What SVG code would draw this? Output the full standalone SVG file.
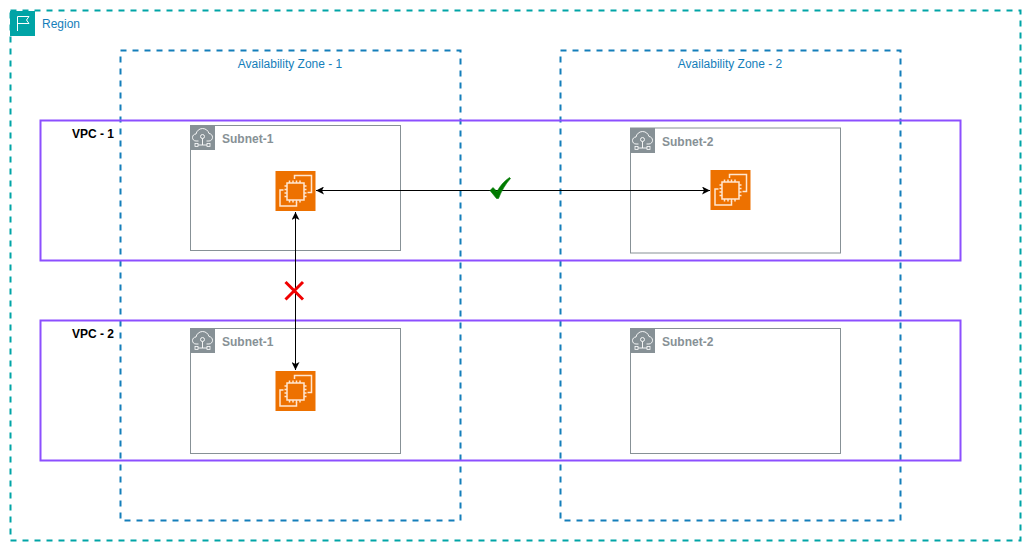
<svg xmlns="http://www.w3.org/2000/svg" width="1033" height="553" viewBox="0 0 1033 553">
<style>
text{font-family:"Liberation Sans",Arial,sans-serif;font-size:12px}
.region{fill:none;stroke:#00a4a6;stroke-width:2;stroke-dasharray:6 6}
.az{fill:none;stroke:#147eba;stroke-width:2;stroke-dasharray:6 6}
.vpc{fill:none;stroke:#8c4fff;stroke-width:2}
.subnet{fill:none;stroke:#879196}
.subtxt{fill:#879196;font-weight:bold}
.blue{fill:#147eba}
.vpctxt{fill:#000;font-weight:bold}
.conn{fill:none;stroke:#000;stroke-width:1}
.ico{fill:none;stroke:#ffe6d0;stroke-width:1.500}
</style>
<defs>
<marker id="arr" markerWidth="9" markerHeight="8" refX="8" refY="4" orient="auto-start-reverse" markerUnits="userSpaceOnUse"><path d="M0 0L8 4L0 8L2 4Z" fill="#000"/></marker>
<symbol id="ec2" viewBox="0 0 40 40" overflow="visible">
<rect width="40" height="40" fill="#ed7100"/>
<path class="ico" d="M19 8V4.500H36V21.500H32M8 19H4.500V35H21V31"/>
<rect class="ico" x="11.500" y="12" width="17" height="17" fill="#ed7100"/>
<path class="ico" stroke-width="1" d="M14 12V9.500M17.500 12V9.500M21 12V9.500M24.500 12V9.500M14 29V31.500M17.500 29V31.500M21 29V31.500M24.500 29V31.500M11.500 15H9M11.500 18.500H9M11.500 22H9M11.500 25.500H9M28.500 15H31M28.500 18.500H31M28.500 22H31M28.500 25.500H31"/>
</symbol>
<symbol id="subicon" viewBox="0 0 25 25" overflow="visible">
<rect width="25" height="25" fill="#879196"/>
<path fill="none" stroke="#fff" stroke-width=".9" d="M8.500 16H6C3.800 16 2.500 14.300 2.500 12.500C2.500 10.500 4 9 6 9C6.500 6 9.300 3.500 12.500 3.500C15.700 3.500 18.300 5.700 19 8.500C21 8.700 22.500 10.300 22.500 12.300C22.500 14.300 21 16 19 16H16.500"/>
<circle cx="12.500" cy="11.500" r="2" fill="none" stroke="#fff" stroke-width=".9"/>
<path fill="none" stroke="#fff" stroke-width=".9" d="M12.500 13.500V20M8 20H17"/>
<rect x="5" y="18.500" width="3" height="3" fill="none" stroke="#fff" stroke-width=".8"/>
<rect x="17" y="18.500" width="3" height="3" fill="none" stroke="#fff" stroke-width=".8"/>
</symbol>
</defs>
<g id="region">
<rect class="region" x="10.500" y="10.500" width="1010" height="530"/>
<rect x="10" y="11" width="25" height="25" fill="#00a4a6"/>
<path fill="none" stroke="#fff" stroke-width="1" d="M17.500 31V16.500H29L26.500 20L29 23.500H17.500"/>
<text x="42" y="28" class="blue">Region</text>
</g>
<g id="az1">
<rect class="az" x="120.500" y="50.500" width="340" height="470"/>
<text x="290" y="68" text-anchor="middle" class="blue">Availability Zone - 1</text>
</g>
<g id="az2">
<rect class="az" x="560.500" y="50.500" width="340" height="470"/>
<text x="730" y="68" text-anchor="middle" class="blue">Availability Zone - 2</text>
</g>
<g id="vpc1">
<rect class="vpc" x="40.500" y="120.500" width="920" height="140"/>
<text x="72" y="138" class="vpctxt">VPC - 1</text>
</g>
<g id="vpc2">
<rect class="vpc" x="40.500" y="320.500" width="920" height="140"/>
<text x="72" y="338" class="vpctxt">VPC - 2</text>
</g>
<g id="subnet-1a">
<rect class="subnet" x="190.500" y="125.500" width="210" height="125"/>
<use href="#subicon" x="190" y="125" width="25" height="25"/>
<text x="222" y="143" class="subtxt">Subnet-1</text>
</g>
<g id="subnet-2a">
<rect class="subnet" x="630.500" y="128" width="210" height="125"/>
<use href="#subicon" x="630" y="128" width="25" height="25"/>
<text x="662" y="146" class="subtxt">Subnet-2</text>
</g>
<g id="subnet-1b">
<rect class="subnet" x="190.500" y="328.500" width="210" height="125"/>
<use href="#subicon" x="190" y="328" width="25" height="25"/>
<text x="222" y="346" class="subtxt">Subnet-1</text>
</g>
<g id="subnet-2b">
<rect class="subnet" x="630.500" y="328.500" width="210" height="125"/>
<use href="#subicon" x="630" y="328" width="25" height="25"/>
<text x="662" y="346" class="subtxt">Subnet-2</text>
</g>
<g id="ec2-1"><use href="#ec2" x="275.500" y="171" width="40" height="40"/></g>
<g id="ec2-2"><use href="#ec2" x="710.500" y="170" width="40" height="40"/></g>
<g id="ec2-3"><use href="#ec2" x="275.500" y="371" width="40" height="40"/></g>
<g id="connectors">
<path class="conn" d="M316 190.500H710" marker-start="url(#arr)" marker-end="url(#arr)"/>
<path class="conn" d="M295.500 212V370" marker-start="url(#arr)" marker-end="url(#arr)"/>
</g>
<g id="check">
<path d="M490 190.500L493 187.500L497 191.500C500 186 504 181 509.500 177.500L510.500 178.500C505.500 184 501.500 191 498.500 198.500L496.500 198.500Z" fill="#007a00" stroke="#007a00" stroke-width=".6"/>
</g>
<g id="cross">
<path d="M285.500 282L303 299.500M303 282L285.500 299.500" fill="none" stroke="#f00000" stroke-width="3"/>
</g>
</svg>
